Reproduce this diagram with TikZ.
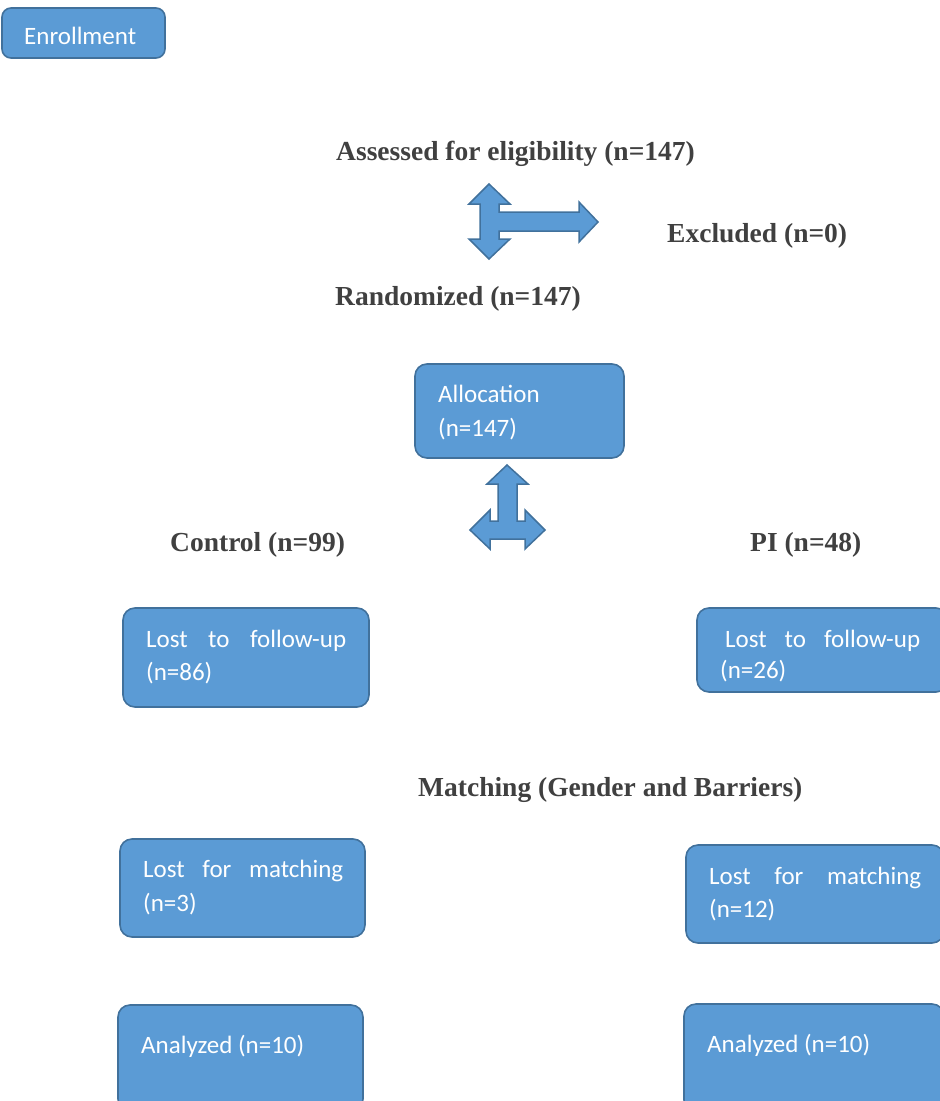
\documentclass[tikz,border=0pt]{standalone}
\usepackage{fontspec}
\setmainfont{Liberation Serif}
\newfontfamily\calfont{Carlito}
\definecolor{boxfill}{HTML}{5B9BD5}
\definecolor{boxline}{HTML}{41719C}
\definecolor{headgray}{HTML}{404040}
\begin{document}
\begin{tikzpicture}[x=1pt,y=-1pt,
 box/.style={draw=boxline, fill=boxfill, line width=1.6pt, rounded corners=12pt, inner sep=0pt},
 boxtext/.style={anchor=base west, inner sep=0pt, text=white, font=\calfont\fontsize{25}{34}\selectfont},
 head/.style={anchor=base west, inner sep=0pt, text=headgray, font=\bfseries\fontsize{27.5}{33}\selectfont},
 blockarrow/.style={draw=boxline, fill=boxfill, line width=1.5pt, line join=miter}]
\useasboundingbox (0,0) rectangle (940,1101);
\clip (0,0) rectangle (940,1101);
% boxes
\node[box, minimum width=163pt, minimum height=50pt, rounded corners=9pt] (enroll) at (83.5,33) {};
\node[box, minimum width=209pt, minimum height=94pt] (alloc) at (519.5,411) {};
\node[box, minimum width=246pt, minimum height=99pt] (lostC) at (246,657.5) {};
\node[box, minimum width=251pt, minimum height=84pt] (lostP) at (822.5,650) {};
\node[box, minimum width=245pt, minimum height=98pt] (matchC) at (242.5,888) {};
\node[box, minimum width=258pt, minimum height=98pt] (matchP) at (815,894) {};
\node[box, minimum width=245pt, minimum height=106pt] (anaC) at (240.5,1058) {};
\node[box, minimum width=260pt, minimum height=108pt] (anaP) at (814,1058) {};
% box texts
\node[boxtext] (tEnroll) at (24,44) {Enrollment};
\node[boxtext] (tAlloc1) at (438,402) {Allocation};
\node[boxtext] (tAlloc2) at (438,436) {(n=147)};
\node[boxtext] (tLostC1) at (146,647) {\makebox[200pt][s]{Lost to follow-up}};
\node[boxtext] (tLostC2) at (146,680) {(n=86)};
\node[boxtext] (tLostP1) at (725,647) {\makebox[195pt][s]{Lost to follow-up}};
\node[boxtext] (tLostP2) at (720,678) {(n=26)};
\node[boxtext] (tMatchC1) at (143,877) {\makebox[200pt][s]{Lost for matching}};
\node[boxtext] (tMatchC2) at (143,911) {(n=3)};
\node[boxtext] (tMatchP1) at (709,884) {\makebox[212pt][s]{Lost for matching}};
\node[boxtext] (tMatchP2) at (709,917) {(n=12)};
\node[boxtext] (tAnaC) at (141,1053) {Analyzed (n=10)};
\node[boxtext] (tAnaP) at (707,1052) {Analyzed (n=10)};
% headings
\node[head] (assessed) at (336,160) {Assessed for eligibility (n=147)};
\node[head] (excluded) at (667,242) {Excluded (n=0)};
\node[head] (random) at (335,305) {Randomized (n=147)};
\node[head] (control) at (170,551) {Control (n=99)};
\node[head] (pi) at (750,551) {PI (n=48)};
\node[head] (matching) at (418,796) {Matching (Gender and Barriers)};
% block arrows
\draw[blockarrow] (489,184) -- (510,204) -- (499,204) -- (499,212) -- (579,212) -- (579,202)
  -- (598,222) -- (579,242) -- (579,231) -- (499,231) -- (499,239) -- (510,239)
  -- (489,259) -- (469,239) -- (480,239) -- (480,204) -- (469,204) -- cycle;
\draw[blockarrow] (507,465) -- (528,484) -- (517,484) -- (517,521) -- (525,521) -- (525,510)
  -- (545,530) -- (525,549) -- (525,539) -- (490,539) -- (490,549) -- (470,530)
  -- (490,510) -- (490,521) -- (498,521) -- (498,484) -- (487,484) -- cycle;
\end{tikzpicture}
\end{document}
